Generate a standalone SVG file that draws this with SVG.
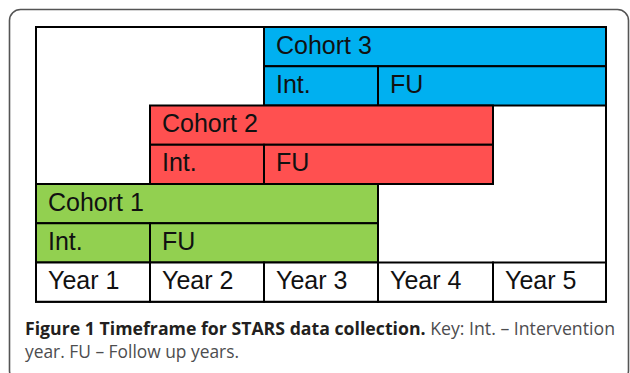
<svg xmlns="http://www.w3.org/2000/svg" width="630" height="373" viewBox="0 0 630 373">
  <style>
    .cell { stroke: #000; stroke-width: 2; }
    .blue { fill: #00B0F0; }
    .red { fill: #FF5050; }
    .green { fill: #92D050; }
    .white { fill: #FFFFFF; }
    .lbl { font-family: "Liberation Sans", Arial, sans-serif; font-size: 25px; fill: #111; }
    .cap { font-family: "Open Sans", "Noto Sans", sans-serif; font-size: 18px; fill: #4D4D4F; }
    .capb { font-weight: bold; fill: #231F20; }
  </style>
  <rect width="630" height="373" fill="#FFFFFF"/>
  <!-- figure frame -->
  <rect x="9.5" y="9.5" width="619" height="372" rx="11" fill="none" stroke="#555" stroke-width="1.6"/>

  <!-- table background -->
  <rect id="table" class="cell white" x="36" y="27" width="570" height="274.75"/>

  <g id="cohort3">
    <rect class="cell blue" x="264" y="27" width="342" height="39.25"/>
    <rect class="cell blue" x="264" y="66.25" width="114" height="39.25"/>
    <rect class="cell blue" x="378" y="66.25" width="228" height="39.25"/>
    <text class="lbl" x="276" y="53.5">Cohort 3</text>
    <text class="lbl" x="276" y="92.75">Int.</text>
    <text class="lbl" x="390" y="92.75">FU</text>
  </g>

  <g id="cohort2">
    <rect class="cell red" x="150" y="105.5" width="343" height="39.25"/>
    <rect class="cell red" x="150" y="144.75" width="114" height="39.25"/>
    <rect class="cell red" x="264" y="144.75" width="229" height="39.25"/>
    <text class="lbl" x="162" y="132">Cohort 2</text>
    <text class="lbl" x="162" y="171.25">Int.</text>
    <text class="lbl" x="276" y="171.25">FU</text>
  </g>

  <g id="cohort1">
    <rect class="cell green" x="36" y="184" width="342" height="39.25"/>
    <rect class="cell green" x="36" y="223.25" width="114" height="39.25"/>
    <rect class="cell green" x="150" y="223.25" width="228" height="39.25"/>
    <text class="lbl" x="48" y="210.75">Cohort 1</text>
    <text class="lbl" x="48" y="250">Int.</text>
    <text class="lbl" x="162" y="250">FU</text>
  </g>

  <g id="years">
    <rect class="cell white" x="36" y="262.5" width="114" height="39.25"/>
    <rect class="cell white" x="150" y="262.5" width="114" height="39.25"/>
    <rect class="cell white" x="264" y="262.5" width="114" height="39.25"/>
    <rect class="cell white" x="378" y="262.5" width="115" height="39.25"/>
    <rect class="cell white" x="493" y="262.5" width="113" height="39.25"/>
    <text class="lbl" x="48" y="289">Year 1</text>
    <text class="lbl" x="162" y="289">Year 2</text>
    <text class="lbl" x="276" y="289">Year 3</text>
    <text class="lbl" x="390" y="289">Year 4</text>
    <text class="lbl" x="505" y="289">Year 5</text>
  </g>

  <!-- caption -->
  <g id="caption" class="cap">
    <text x="25" y="334.5" textLength="590" lengthAdjust="spacingAndGlyphs"><tspan class="capb">Figure 1 Timeframe for STARS data collection.</tspan> Key: Int. – Intervention</text>
    <text x="25" y="357.5" textLength="214" lengthAdjust="spacingAndGlyphs">year. FU – Follow up years.</text>
  </g>
</svg>
